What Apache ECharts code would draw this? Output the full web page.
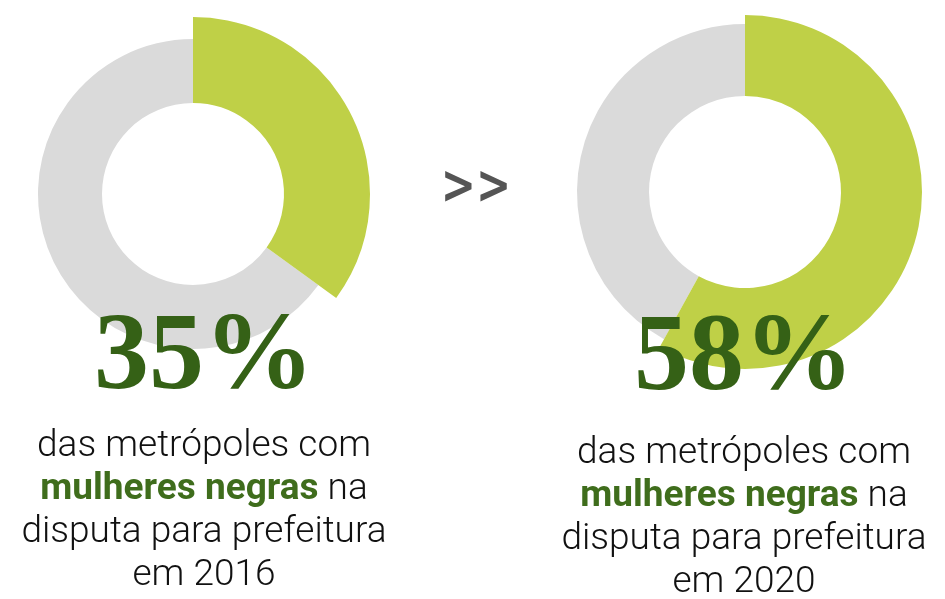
<!DOCTYPE html>
<html>
<head>
<meta charset="utf-8">
<script src="https://cdn.jsdelivr.net/npm/echarts@6/dist/echarts.min.js"></script>
<style>
  html, body { margin: 0; padding: 0; background: #fff; }
  #main { width: 945px; height: 599px; }
</style>
</head>
<body>
<div id="main"></div>
<script>
// dados
var years = ['2016', '2020'];
var shares = [35, 58];          // % metrópoles com mulheres negras
var rest = [65, 42];
var bigLabels = ['35%', '58%'];
var lineOne = 'das metrópoles com';
var lineTwoBold = 'mulheres negras';
var lineTwoRest = ' na';
var lineThree = 'disputa para prefeitura';

var GREEN = '#bfd047';
var GRAY = '#dadada';
var DARK = '#356116';

// posição de cada rosca
var donuts = [
  { cx: 193, cy: 194, inner: 91, grayR: 155, greenR: 177, textX: 204, numY: 360, descY: 458 },
  { cx: 745, cy: 192, inner: 96, grayR: 168, greenR: 177, textX: 744, numY: 361, descY: 465 }
];

var myChart = echarts.init(document.getElementById('main'), null, { renderer: 'canvas' });

var series = [];
var graphic = [];
for (var i = 0; i < years.length; i++) {
  var d = donuts[i];
  //anel cinza (parte restante)
  series.push({
    type: 'pie', name: 'resto ' + years[i], silent: true,
    center: [d.cx, d.cy], radius: [d.inner, d.grayR],
    startAngle: 90, clockwise: true, label: { show: false }, labelLine: { show: false },
    data: [
      { value: shares[i], itemStyle: { color: 'rgba(0,0,0,0)' } },
      { value: rest[i], itemStyle: { color: GRAY } }
    ]
  });
  //fatia verde
  series.push({
    type: 'pie', name: years[i], silent: true,
    center: [d.cx, d.cy], radius: [d.inner, d.greenR],
    startAngle: 90, clockwise: true, label: { show: false }, labelLine: { show: false },
    data: [
      { value: shares[i], itemStyle: { color: GREEN } },
      { value: rest[i], itemStyle: { color: 'rgba(0,0,0,0)' } }
    ]
  });

  graphic.push({
    type: 'text', z: 100, x: d.textX, y: d.numY,
    style: {
      text: bigLabels[i], fill: DARK, align: 'center', verticalAlign: 'middle',
      font: 'bold 110px "Liberation Serif", serif'
    }
  });
  graphic.push({
    type: 'text', z: 100, x: d.textX, y: d.descY - 33,
    style: {
      text: '{n|' + lineOne + '}\n{b|' + lineTwoBold + '}{n|' + lineTwoRest + '}\n{n|' + lineThree + '}\n{n|em ' + years[i] + '}',
      align: 'center', verticalAlign: 'top',
      rich: {
        n: { fontFamily: 'Roboto', fontWeight: 300, fontSize: 37, lineHeight: 43, fill: '#111', align: 'center' },
        b: { fontFamily: 'Roboto', fontWeight: 'bold', fontSize: 37, lineHeight: 43, fill: '#3f6d1c', align: 'center' }
      }
    }
  });
}

graphic.push({
  type: 'text', x: 476, y: 189, scaleY: 1.25,
  style: { text: '>>', fill: '#555', align: 'center', verticalAlign: 'middle', font: 'bold 42px "DejaVu Sans", sans-serif' }
});

var option = {
  animation: false,
  backgroundColor: '#ffffff',
  series: series,
  graphic: graphic
};
myChart.setOption(option);
</script>
</body>
</html>
